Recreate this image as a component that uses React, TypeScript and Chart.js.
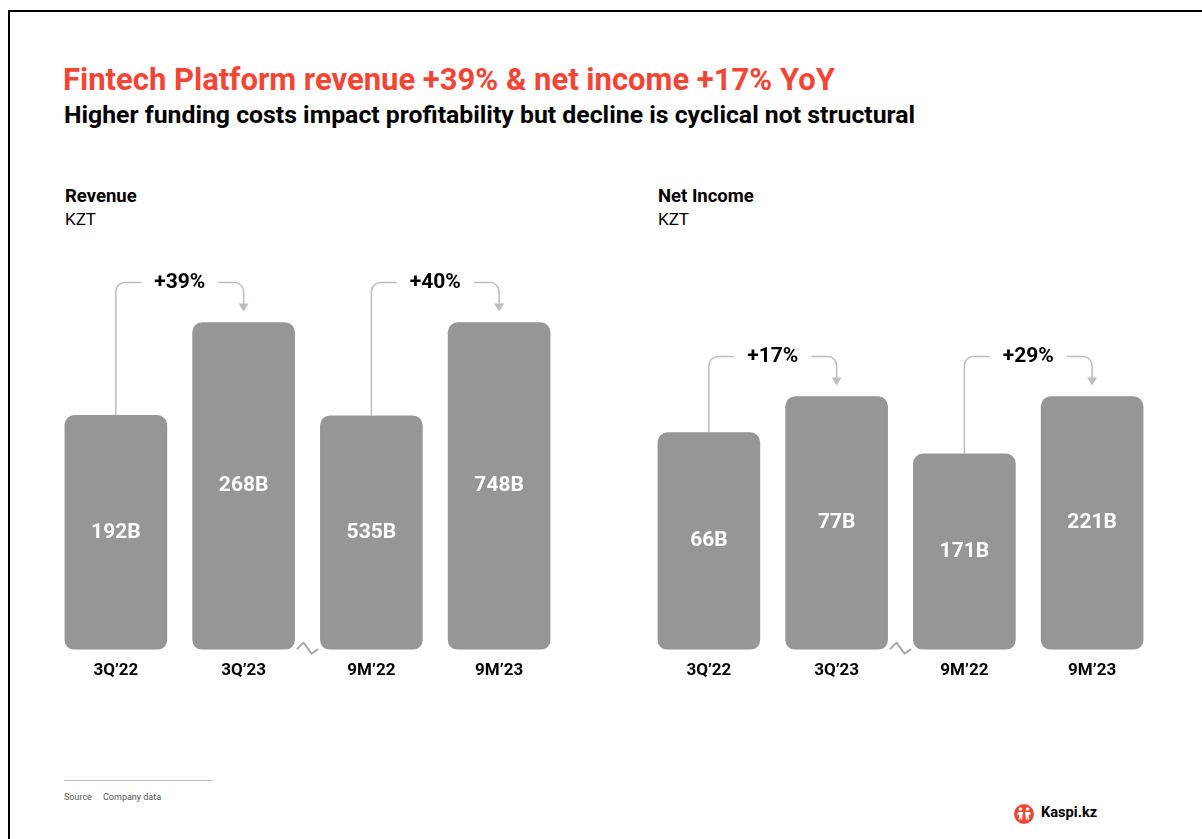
import React, { useEffect, useRef } from "react";
import { Chart, registerables } from "chart.js";

Chart.register(...registerables);

// ---------- data ----------
const categories = ["3Q’22", "3Q’23", "9M’22", "9M’23"];

const revenueQuarter = [192, 268, null, null];
const revenueNineMonths = [null, null, 535, 748];
const revenueGrowth = ["+39%", "+40%"];

const netIncomeQuarter = [66, 77, null, null];
const netIncomeNineMonths = [null, null, 171, 221];
const netIncomeGrowth = ["+17%", "+29%"];

// ---------- style ----------
const RED = "#f14635";
const BAR = "#969696";
const ARROW = "#bdbdbd";
const FONT = "Roboto, 'Noto Sans', sans-serif";

const annotatePlugin = {
  id: "annotate",
  afterDatasetsDraw(chart: any, _args: any, opts: any) {
    const ctx = chart.ctx as CanvasRenderingContext2D;
    const growth: string[] = opts.growth || [];
    const pairs: any[][] = [];
    ctx.save();
    chart.data.datasets.forEach((ds: any, di: number) => {
      const meta = chart.getDatasetMeta(di);
      const els: any[] = [];
      ds.data.forEach((v: any, i: number) => {
        if (v == null) return;
        const el = meta.data[i].getProps(["x", "y", "base"], true);
        els.push(el);
        // value label
        ctx.fillStyle = "#fff";
        ctx.font = `bold 21px ${FONT}`;
        ctx.textAlign = "center";
        ctx.textBaseline = "middle";
        ctx.fillText(`${v}B`, el.x, (el.y + el.base) / 2);
      });
      pairs.push(els);
    });

    // growth arrows
    pairs.forEach((els, pi) => {
      if (els.length < 2) return;
      const a = els[0];
      const b = els[1];
      const lineY = Math.min(a.y, b.y) - 40;
      const r = 9;
      const mid = (a.x + b.x) / 2;
      const label = growth[pi] || "";
      ctx.font = `bold 21px ${FONT}`;
      const tw = ctx.measureText(label).width;
      const gap = 13;
      ctx.strokeStyle = ARROW;
      ctx.lineWidth = 1.5;
      ctx.lineJoin = "round";
      ctx.beginPath();
      ctx.moveTo(a.x, a.y);
      ctx.lineTo(a.x, lineY + r);
      ctx.arcTo(a.x, lineY, a.x + r, lineY, r);
      ctx.lineTo(mid - tw / 2 - gap, lineY);
      ctx.stroke();
      const tipY = b.y - 11;
      const headH = 8;
      ctx.beginPath();
      ctx.moveTo(mid + tw / 2 + gap, lineY);
      ctx.lineTo(b.x - r, lineY);
      ctx.arcTo(b.x, lineY, b.x, lineY + r, r);
      ctx.lineTo(b.x, tipY - headH + 1);
      ctx.stroke();
      ctx.fillStyle = ARROW;
      ctx.beginPath();
      ctx.moveTo(b.x - 5, tipY - headH);
      ctx.lineTo(b.x + 5, tipY - headH);
      ctx.lineTo(b.x, tipY);
      ctx.closePath();
      ctx.fill();
      ctx.fillStyle = "#000";
      ctx.textAlign = "center";
      ctx.textBaseline = "middle";
      ctx.fillText(label, mid, lineY);
    });

    // axis break symbol between the two pairs
    if (pairs.length === 2 && pairs[0].length && pairs[1].length) {
      const x = (pairs[0][pairs[0].length - 1].x + pairs[1][0].x) / 2;
      const y = chart.chartArea.bottom - 1;
      ctx.strokeStyle = "#a8a8a8";
      ctx.lineWidth = 2;
      ctx.lineJoin = "round";
      ctx.lineCap = "round";
      ctx.beginPath();
      ctx.moveTo(x - 10, y);
      ctx.lineTo(x - 4, y - 6);
      ctx.lineTo(x + 4, y + 5);
      ctx.lineTo(x + 10, y + 1);
      ctx.stroke();
    }
    ctx.restore();
  },
};

type PanelProps = {
  left: number;
  top: number;
  quarter: (number | null)[];
  nineMonths: (number | null)[];
  growth: string[];
  headroom: number;
};

const CW = 540;
const CH = 444;

function BarPanel({ left, top, quarter, nineMonths, growth, headroom }: PanelProps) {
  const ref = useRef<HTMLCanvasElement>(null);
  useEffect(() => {
    if (!ref.current) return;
    const qMax = Math.max(...(quarter.filter((v) => v != null) as number[]));
    const nMax = Math.max(...(nineMonths.filter((v) => v != null) as number[]));
    const common = {
      backgroundColor: BAR,
      borderRadius: 10,
      borderSkipped: false,
      barThickness: 102,
      grouped: false,
    };
    const chart = new Chart(ref.current, {
      type: "bar",
      data: {
        labels: categories,
        datasets: [
          { ...common, data: quarter, yAxisID: "yq" } as any,
          { ...common, data: nineMonths, yAxisID: "yn" } as any,
        ],
      },
      options: {
        responsive: false,
        animation: false,
        devicePixelRatio: 1,
        layout: { padding: { left: 12, right: 17, top: 10, bottom: 0 } },
        plugins: {
          legend: { display: false },
          tooltip: { enabled: false },
          annotate: { growth },
        } as any,
        scales: {
          x: {
            grid: { display: false },
            border: { display: false },
            ticks: {
              color: "#000",
              padding: 3,
              font: { family: FONT, weight: "bold", size: 17 },
            },
          },
          yq: { display: false, min: 0, max: qMax * headroom },
          yn: { display: false, min: 0, max: nMax * headroom },
        },
      },
      plugins: [annotatePlugin],
    });
    return () => chart.destroy();
  }, []);
  return (
    <canvas
      ref={ref}
      width={CW}
      height={CH}
      style={{ position: "absolute", left, top, width: CW, height: CH }}
    />
  );
}

function Text({
  x,
  top,
  size,
  bold,
  color = "#000",
  children,
}: {
  x: number;
  top: number;
  size: number;
  bold?: boolean;
  color?: string;
  children: React.ReactNode;
}) {
  return (
    <div
      style={{
        position: "absolute",
        left: x,
        top,
        fontSize: size,
        lineHeight: 1,
        fontWeight: bold ? 700 : 400,
        color,
        whiteSpace: "nowrap",
        fontFamily: FONT,
      }}
    >
      {children}
    </div>
  );
}

export default function App() {
  return (
    <div
      style={{
        position: "fixed",
        inset: 0,
        overflow: "hidden",
        background: "#fff",
        fontFamily: FONT,
      }}
    >
      <div
        style={{
          position: "absolute",
          left: 8,
          top: 10,
          width: 1400,
          height: 1000,
          border: "2px solid #000",
          boxSizing: "border-box",
        }}
      />
      <Text x={63} top={64} size={31} bold color={RED}>
        Fintech Platform revenue +39% &amp; net income +17% YoY
      </Text>
      <Text x={64} top={103} size={24.8} bold>
        Higher funding costs impact profitability but decline is cyclical not structural
      </Text>

      <Text x={65} top={186.5} size={18.5} bold>
        Revenue
      </Text>
      <Text x={65} top={210.5} size={17}>
        KZT
      </Text>
      <Text x={658} top={186.5} size={18.5} bold>
        Net Income
      </Text>
      <Text x={658} top={210.5} size={17}>
        KZT
      </Text>

      <BarPanel
        left={40}
        top={240}
        quarter={revenueQuarter}
        nineMonths={revenueNineMonths}
        growth={revenueGrowth}
        headroom={1.222}
      />
      <BarPanel
        left={633}
        top={240}
        quarter={netIncomeQuarter}
        nineMonths={netIncomeNineMonths}
        growth={netIncomeGrowth}
        headroom={1.579}
      />

      <div
        style={{
          position: "absolute",
          left: 64,
          top: 780,
          width: 149,
          height: 1,
          background: "#bdbdbd",
        }}
      />
      <Text x={64} top={792.5} size={9} color="#555">
        Source
      </Text>
      <Text x={103} top={792.5} size={9} color="#555">
        Company data
      </Text>

      <svg
        width={22}
        height={22}
        viewBox="0 0 22 22"
        style={{ position: "absolute", left: 1013, top: 802.5 }}
      >
        <circle cx={11} cy={11} r={10} fill={RED} />
        <circle cx={7.5} cy={6} r={1.8} fill="#fff" />
        <circle cx={14.5} cy={6} r={1.8} fill="#fff" />
        <path d="M5 9 L10 9 L9 17 L8 17 L7.5 13 L7 17 L6 17 L6 11 L4 13 Z" fill="#fff" />
        <path d="M12 9 L17 9 L18 12 L16 11 L16 17 L15 17 L14.5 13 L14 17 L13 17 Z" fill="#fff" />
      </svg>
      <Text x={1041} top={804.5} size={14.6} bold>
        Kaspi.kz
      </Text>
    </div>
  );
}
